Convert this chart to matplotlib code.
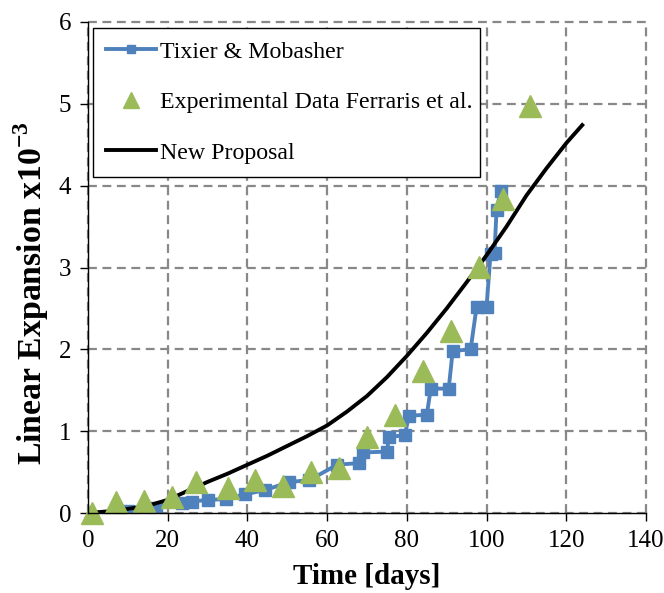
import matplotlib
matplotlib.use("Agg")
import matplotlib.pyplot as plt

# Tixier & Mobasher model (staircase)
tixier_days = [0, 10, 17, 23.5, 26, 30, 34.5, 39.5, 44.5, 50.5, 55.5, 62.5, 68, 69,
               75, 75.5, 79.5, 80.5, 85, 86, 90.5, 91.5, 96, 97.5, 100, 101, 102,
               102.5, 103.5]
tixier_exp = [0, 0.02, 0.06, 0.12, 0.14, 0.16, 0.17, 0.23, 0.28, 0.38, 0.40, 0.59,
              0.61, 0.74, 0.75, 0.93, 0.95, 1.19, 1.20, 1.52, 1.52, 1.98, 2.00,
              2.52, 2.52, 3.17, 3.18, 3.70, 3.93]

# Experimental data, Ferraris et al.
exp_days = [1, 7, 14, 21, 27, 35, 42, 49, 56, 63, 70, 77, 84, 91, 98, 104, 111]
exp_vals = [0.0, 0.13, 0.15, 0.20, 0.38, 0.30, 0.40, 0.33, 0.50, 0.55, 0.93, 1.20,
            1.74, 2.22, 3.01, 3.84, 4.97]

# New proposal
new_days = [0, 5, 10, 15, 20, 25, 30, 35, 40, 45, 50, 55, 60, 65, 70, 75, 80, 85,
            90, 95, 100, 105, 110, 115, 120, 124]
new_vals = [0, 0.02, 0.05, 0.09, 0.16, 0.27, 0.38, 0.48, 0.59, 0.70, 0.82, 0.94,
            1.07, 1.24, 1.43, 1.66, 1.92, 2.20, 2.50, 2.82, 3.15, 3.50, 3.88, 4.21,
            4.52, 4.74]

x_ticks = [0, 20, 40, 60, 80, 100, 120, 140]
y_ticks = [0, 1, 2, 3, 4, 5, 6]

plt.rcParams['font.family'] = ['Liberation Serif', 'DejaVu Serif']
plt.rcParams['mathtext.fontset'] = 'custom'
plt.rcParams['mathtext.rm'] = 'Liberation Serif'
plt.rcParams['mathtext.bf'] = 'Liberation Serif:bold'

fig = plt.figure(figsize=(6.64, 5.93), dpi=100)
ax = fig.add_axes([88 / 664, 80 / 593, 558 / 664, 491 / 593])

blue = '#4F81BD'
green = '#9BBB59'

ax.plot(tixier_days, tixier_exp, color=blue, lw=2.8, marker='s', ms=8,
        label='Tixier & Mobasher', zorder=3)
ax.plot(exp_days, exp_vals, ls='none', marker='^', ms=16, color=green,
        label='Experimental Data Ferraris et al.', zorder=4, clip_on=False)
ax.plot(new_days, new_vals, color='black', lw=2.8, label='New Proposal', zorder=3)

ax.set_xlim(0, 140)
ax.set_ylim(0, 6)
ax.set_xticks(x_ticks)
ax.set_yticks(y_ticks)
ax.tick_params(axis='both', direction='out', length=6, width=1, labelsize=18,
               color='black')
ax.tick_params(axis='x', pad=6)
ax.tick_params(axis='y', pad=6)

for side in ('top', 'right'):
    ax.spines[side].set_visible(False)
for side in ('left', 'bottom'):
    ax.spines[side].set_linewidth(1.0)
    ax.spines[side].set_color('black')
    ax.spines[side].set_zorder(5)

ax.grid(True, color='#888888', ls=(0, (4, 2.5)), lw=1.6, zorder=0)
ax.set_axisbelow(True)
for ln in ax.get_xgridlines() + ax.get_ygridlines():
    ln.set_clip_on(False)

ax.set_xlabel('Time [days]', fontsize=21, fontweight='bold', labelpad=8)
ax.set_ylabel('Linear Expansion x10$^{\\mathbf{-3}}$', fontsize=24.3,
              fontweight='bold')
ax.yaxis.set_label_coords(-0.066, 0.447)

leg = ax.legend(loc='upper left', bbox_to_anchor=(0.009, 0.988, 0.694, 0.0),
                mode='expand', fontsize=17.2, frameon=True, fancybox=False,
                edgecolor='black', framealpha=1, borderpad=0.55,
                labelspacing=1.2, handlelength=2.1, handletextpad=0.15,
                markerscale=0.68, borderaxespad=0)
leg.get_frame().set_linewidth(1.0)
leg.set_zorder(6)

fig.savefig('out.png', dpi=100)
